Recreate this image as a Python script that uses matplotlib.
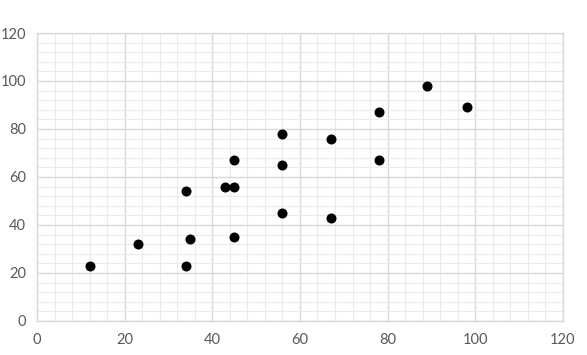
import matplotlib
matplotlib.use("Agg")
import matplotlib.pyplot as plt
import numpy as np

# Data
x_vals = [12, 23, 34, 34, 35, 43, 45, 45, 45, 56, 56, 56, 67, 67, 78, 78, 89, 98]
y_vals = [23, 32, 23, 54, 34, 56, 56, 67, 35, 78, 65, 45, 76, 43, 87, 67, 98, 89]
major_ticks = [0, 20, 40, 60, 80, 100, 120]

GRID_MAJOR = "#d9d9d9"
GRID_MINOR = "#ebebeb"
TEXT_GRAY = "#595959"

plt.rcParams["font.family"] = ["Lato", "DejaVu Sans"]

fig = plt.figure(figsize=(5.87, 3.55), dpi=100)
ax = fig.add_axes([0.063, 0.096, 0.896, 0.811])

ax.scatter(x_vals, y_vals, s=52, color="black", zorder=3, linewidths=0)

ax.set_xlim(0, 120)
ax.set_ylim(0, 120)
ax.set_xticks(major_ticks)
ax.set_yticks(major_ticks)
ax.set_xticks(np.arange(0, 121, 4), minor=True)
ax.set_yticks(np.arange(0, 121, 4), minor=True)
ax.grid(which="major", color=GRID_MAJOR, linewidth=1.0, zorder=1)
ax.grid(which="minor", color=GRID_MINOR, linewidth=0.8, zorder=0)
ax.set_axisbelow(True)

for side in ["top", "right", "left", "bottom"]:
    ax.spines[side].set_color(GRID_MAJOR)
    ax.spines[side].set_linewidth(1.0)

ax.tick_params(which="both", length=0, colors=TEXT_GRAY, labelsize=10.5)
ax.tick_params(axis="x", pad=9)
ax.tick_params(axis="y", pad=8)

plt.savefig("out.png", dpi=100)
plt.close()
